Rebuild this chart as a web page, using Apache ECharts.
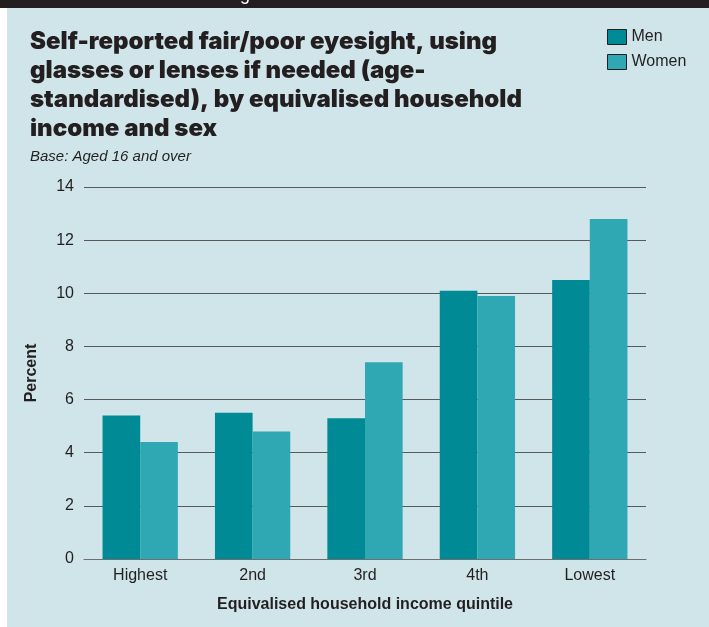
<!DOCTYPE html>
<html>
<head>
<meta charset="utf-8">
<script src="https://cdn.jsdelivr.net/npm/echarts@6/dist/echarts.min.js"></script>
<style>
  html, body { margin: 0; padding: 0; background: #ffffff; }
  #chart { width: 709px; height: 627px; }
</style>
</head>
<body>
<div id="chart"></div>
<script>
// Income quintiles and self-reported fair/poor eyesight (%) by sex
const quintiles = ['Highest', '2nd', '3rd', '4th', 'Lowest'];
const men = [5.4, 5.5, 5.3, 10.1, 10.5];
const women = [4.4, 4.8, 7.4, 9.9, 12.8];
const yTicks = { min: 0, max: 14, step: 2 };

const titleLines = [
  'Self-reported fair/poor eyesight, using',
  'glasses or lenses if needed (age-',
  'standardised), by equivalised household',
  'income and sex'
];

const chart = echarts.init(document.getElementById('chart'), null, { renderer: 'canvas' });

chart.setOption({
  backgroundColor: '#ffffff',
  animation: false,
  textStyle: { fontFamily: 'Liberation Sans, Arial, sans-serif' },
  graphic: [
    { type: 'rect', shape: { x: 7, y: 8, width: 702, height: 619 }, style: { fill: '#cfe5ea' }, z: -10 },
    { type: 'rect', shape: { x: 0, y: 0, width: 709, height: 8 }, style: { fill: '#231f20' }, z: -9 },
    {
      // tail of the running header above the panel
      type: 'text', left: 240, top: -14, z: 5,
      style: { text: 'g', font: '18px "Liberation Sans", Arial, sans-serif', fill: '#ffffff' }
    },
    {
      type: 'text', left: 30, top: 27, z: 5,
      style: {
        text: titleLines.join('\n'),
        font: '900 24px Inter, "Liberation Sans", Arial, sans-serif',
        lineHeight: 29, fill: '#231f20'
      }
    },
    {
      type: 'text', left: 30, top: 149, z: 5,
      style: {
        text: 'Base: Aged 16 and over',
        font: 'italic 15px "Liberation Sans", Arial, sans-serif',
        fill: '#231f20'
      }
    }
  ],
  legend: {
    data: ['Men', 'Women'],
    orient: 'vertical',
    left: 607, top: 29,
    padding: 0,
    itemWidth: 19, itemHeight: 15, itemGap: 9,
    itemTextGap: 6,
    icon: 'rect',
    itemStyle: { borderColor: '#231f20', borderWidth: 1 },
    textStyle: { fontSize: 16, color: '#231f20' }
  },
  grid: { left: 84, right: 63, top: 187, bottom: 68, containLabel: false },
  xAxis: {
    type: 'category',
    data: quintiles,
    name: 'Equivalised household income quintile',
    nameLocation: 'middle',
    nameGap: 38,
    nameTextStyle: { fontSize: 16, fontWeight: 'bold', color: '#231f20' },
    axisLine: { show: true, lineStyle: { color: '#6d6e71', width: 1 } },
    axisTick: { show: false },
    axisLabel: { fontSize: 16, color: '#231f20', margin: 9 }
  },
  yAxis: {
    type: 'value',
    min: yTicks.min, max: yTicks.max, interval: yTicks.step,
    name: 'Percent',
    nameLocation: 'middle',
    nameGap: 44,
    nameRotate: 90,
    nameTextStyle: { fontSize: 16, fontWeight: 'bold', color: '#231f20' },
    axisLine: { show: false },
    axisTick: { show: false },
    axisLabel: { fontSize: 16, color: '#231f20', margin: 10, padding: [10, 0, 0, 0] },
    splitLine: { show: true, lineStyle: { color: '#58595b', width: 1 } }
  },
  series: [
    {
      name: 'Men', type: 'bar', data: men,
      barGap: '0%', barCategoryGap: '33%',
      itemStyle: { color: '#008a95' }
    },
    {
      name: 'Women', type: 'bar', data: women,
      barGap: '0%', barCategoryGap: '33%',
      itemStyle: { color: '#2fa8b3' }
    }
  ]
});
</script>
</body>
</html>
